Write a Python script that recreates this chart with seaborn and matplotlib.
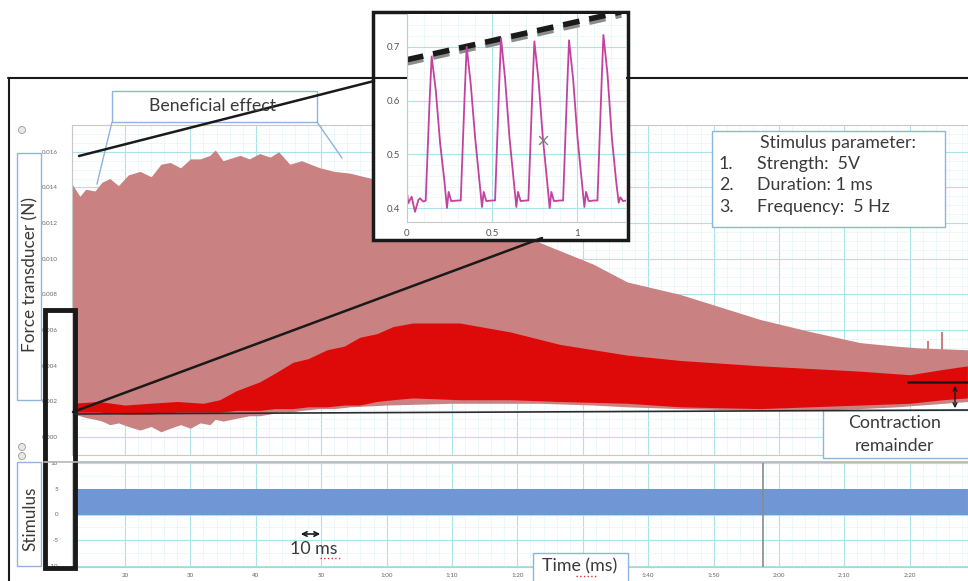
import matplotlib
matplotlib.use("Agg")
import matplotlib.pyplot as plt
import seaborn as sns
import pandas as pd
from matplotlib.patches import Rectangle, FancyArrowPatch, Circle

# ---- data read from the recording (time in s, force in N) ----
light_t = [11.9, 13.1, 14.0, 15.4, 16.5, 17.7, 19.0, 20.5, 22.3, 24.0, 25.5, 26.9, 28.5, 30.0,
           31.5, 33.0, 33.8, 35.0, 37.6, 39.0, 40.6, 42.2, 43.5, 45.2, 47.0, 49.8, 52.0, 54.4,
           60.0, 70.0, 83.5, 91.6, 96.8, 104.9, 117.1, 125.0, 132.4, 138.0, 141.6, 148.9]
light_top = [0.0142, 0.0135, 0.0139, 0.0138, 0.0143, 0.0145, 0.0141, 0.0147, 0.0149, 0.0146,
             0.0153, 0.0154, 0.0151, 0.0156, 0.0156, 0.0158, 0.0161, 0.0155, 0.0158, 0.0156,
             0.0159, 0.0157, 0.0160, 0.0153, 0.0155, 0.0151, 0.0149, 0.0148, 0.0143, 0.0132,
             0.0109, 0.0097, 0.0087, 0.0080, 0.0066, 0.0059, 0.0053, 0.0051, 0.0050, 0.0049]
light_bot = [0.0013, 0.0012, 0.0011, 0.0010, 0.0009, 0.0007, 0.0008, 0.0006, 0.0004, 0.0006,
             0.0003, 0.0005, 0.0007, 0.0005, 0.0008, 0.0007, 0.0010, 0.0009, 0.0011, 0.0012,
             0.0012, 0.0013, 0.0014, 0.0014, 0.0015, 0.0016, 0.0016, 0.0017, 0.0018, 0.0019,
             0.0019, 0.0018, 0.0017, 0.0016, 0.0015, 0.0015, 0.0016, 0.0017, 0.0018, 0.0020]

dark_t = [11.9, 16.0, 20.0, 23.8, 28.0, 32.0, 34.5, 37.0, 40.6, 43.0, 45.7, 48.0, 50.9, 53.5,
          55.9, 58.5, 61.0, 64.0, 71.2, 78.9, 86.5, 96.8, 104.9, 117.1, 132.4, 140.0, 145.1, 148.9]
dark_top = [0.0019, 0.0020, 0.0018, 0.0019, 0.0020, 0.0019, 0.0021, 0.0026, 0.0031, 0.0036,
            0.0042, 0.0044, 0.0049, 0.0051, 0.0056, 0.0058, 0.0062, 0.0064, 0.0064, 0.0059,
            0.0052, 0.0046, 0.0043, 0.0040, 0.0037, 0.0035, 0.0038, 0.0040]
dark_bot = [0.0014, 0.0014, 0.0013, 0.0013, 0.0014, 0.0014, 0.0014, 0.0015, 0.0015, 0.0016,
            0.0016, 0.0017, 0.0017, 0.0018, 0.0018, 0.0020, 0.0021, 0.0022, 0.0021, 0.0021,
            0.0020, 0.0019, 0.0017, 0.0016, 0.0018, 0.0019, 0.0021, 0.0022]

spike_t = [142.8, 144.9]
spike_lo = [0.0045, 0.0045]
spike_hi = [0.0054, 0.0059]

force_ticks = [0.000, 0.002, 0.004, 0.006, 0.008, 0.010, 0.012, 0.014, 0.016]
force_labels = ["0.000", "0.002", "0.004", "0.006", "0.008", "0.010", "0.012", "0.014", "0.016"]

# stimulus channel: 5 V pulse train shown as a band
stim_t = [11.9, 148.9]
stim_lo = [0, 0]
stim_hi = [5, 5]
stim_ticks = [-10, -5, 0, 5, 10]
stim_labels = ["-10", "-5", "0", "5", "10"]
marker_t = 117.6

time_ticks = [20, 30, 40, 50, 60, 70, 80, 90, 100, 110, 120, 130, 140]
time_labels = ["20", "30", "40", "50", "1:00", "1:10", "1:20", "1:30", "1:40", "1:50",
               "2:00", "2:10", "2:20"]

# zoomed trace in the inset (six twitches at 5 Hz)
zoom_t = [0.000, 0.008, 0.027, 0.047, 0.067, 0.076, 0.096,
          0.110, 0.133, 0.145, 0.169, 0.195, 0.220, 0.235, 0.245, 0.260, 0.300,
          0.316, 0.339, 0.351, 0.375, 0.401, 0.426, 0.441, 0.451, 0.466, 0.500,
          0.518, 0.541, 0.553, 0.577, 0.603, 0.628, 0.643, 0.653, 0.668, 0.700,
          0.714, 0.737, 0.749, 0.773, 0.799, 0.824, 0.839, 0.849, 0.864, 0.900,
          0.918, 0.941, 0.953, 0.977, 1.003, 1.028, 1.043, 1.053, 1.068, 1.100,
          1.120, 1.143, 1.155, 1.179, 1.205, 1.230, 1.245, 1.255, 1.270, 1.288]
zoom_v = [0.428, 0.409, 0.421, 0.393, 0.415, 0.418, 0.412,
          0.414, 0.600, 0.682, 0.620, 0.520, 0.450, 0.400, 0.430, 0.413, 0.414,
          0.414, 0.610, 0.700, 0.630, 0.530, 0.450, 0.402, 0.430, 0.413, 0.414,
          0.414, 0.620, 0.716, 0.640, 0.530, 0.450, 0.402, 0.430, 0.413, 0.414,
          0.414, 0.615, 0.710, 0.640, 0.530, 0.450, 0.400, 0.430, 0.413, 0.414,
          0.414, 0.615, 0.712, 0.640, 0.530, 0.450, 0.402, 0.430, 0.413, 0.414,
          0.414, 0.620, 0.722, 0.650, 0.530, 0.450, 0.410, 0.420, 0.413, 0.414]
peak_line_t = [0.0, 1.26]
peak_line_v = [0.676, 0.765]
cursor_t, cursor_v = 0.80, 0.527

LIGHT_RED = "#c98181"
DARK_RED = "#de0a0a"
STIM_BLUE = "#7196d6"
GRID = "#abe3ea"
GRID_MINOR = "#e4f6f8"
BOX_EDGE = "#8db3de"
TXT = "#3a3a3a"
FS = 12.8

W, H = 968, 581

sns.set_theme(style="white")
plt.rcParams["font.family"] = ["Lato", "DejaVu Sans"]


def px_rect(x0, y0, x1, y1):
    return [x0 / W, 1 - y1 / H, (x1 - x0) / W, (y1 - y0) / H]


def style_grid(a):
    a.set_axisbelow(True)
    a.minorticks_on()
    a.grid(which="major", color=GRID, lw=0.8)
    a.grid(which="minor", color=GRID_MINOR, lw=0.5)
    a.tick_params(which="both", labelsize=4.5, labelcolor="#666", length=2, color="#999")
    for s in a.spines.values():
        s.set_color("#c8c8c8")
        s.set_linewidth(0.8)


fig = plt.figure(figsize=(W / 100, H / 100), dpi=100)

# ---- force panel ----
ax = fig.add_axes(px_rect(72, 125, 968, 455))
ax.fill_between(light_t, light_bot, light_top, color=LIGHT_RED, lw=0)
ax.vlines(spike_t, spike_lo, spike_hi, color=LIGHT_RED, lw=1.5)
ax.fill_between(dark_t, dark_bot, dark_top, color=DARK_RED, lw=0)
ax.set_xlim(11.9, 148.9)
ax.set_ylim(-0.001, 0.0171)
style_grid(ax)
ax.set_yticks(force_ticks)
ax.set_yticklabels(force_labels)
ax.set_xticks(time_ticks)
ax.set_xticks([t + d for t in time_ticks for d in (2, 4, 6, 8)], minor=True)
ax.set_yticks([v + 0.0005 * k for v in force_ticks for k in (1, 2, 3)], minor=True)
ax.tick_params(axis="x", labelbottom=False, length=0)
ax.tick_params(axis="y", which="major", pad=8)

# ---- stimulus panel ----
sx = fig.add_axes(px_rect(72, 462, 968, 567))
sx.fill_between(stim_t, stim_lo, stim_hi, color=STIM_BLUE, lw=0)
sx.axvline(marker_t, color="#8a8a8a", lw=1.2)
sx.set_xlim(11.9, 148.9)
sx.set_ylim(-10.2, 10.2)
style_grid(sx)
sx.set_yticks(stim_ticks)
sx.set_yticklabels(stim_labels)
sx.set_xticks(time_ticks)
sx.set_xticklabels(time_labels)
sx.set_xticks([t + d for t in time_ticks for d in (2, 4, 6, 8)], minor=True)
sx.set_yticks([-7.5, -2.5, 2.5, 7.5], minor=True)
sx.tick_params(axis="y", which="major", pad=8)
sx.tick_params(axis="x", which="major", pad=2)

# ---- annotation overlay, drawn in pixel space ----
ov = fig.add_axes([0, 0, 1, 1], zorder=5)
ov.set_xlim(0, W)
ov.set_ylim(H, 0)
ov.axis("off")
ov.patch.set_alpha(0)

ov.plot([8, W], [78, 78], color="k", lw=1.5)
ov.plot([9, 9], [78, H], color="k", lw=1.5)
ov.plot([44, W], [462, 462], color="#b8b8b8", lw=1.2)

for cx, cy in [(22, 130), (22, 447), (22, 456)]:
    ov.add_patch(Circle((cx, cy), 3.5, fc="#e8e8e8", ec="#999", lw=0.6))

ov.add_patch(Rectangle((17, 153), 24, 247, fc="white", ec=BOX_EDGE, lw=1))
ov.text(30, 275, "Force transducer (N)", rotation=90, ha="center", va="center",
        fontsize=12.3, color=TXT)
ov.add_patch(Rectangle((17, 462), 24, 104, fc="white", ec=BOX_EDGE, lw=1))
ov.text(30, 519, "Stimulus", rotation=90, ha="center", va="center", fontsize=12.3, color=TXT)

# beneficial effect callout
ov.add_patch(Rectangle((112, 91), 205, 31, fc="white", ec=BOX_EDGE, lw=1))
ov.text(213, 106, "Beneficial effect", ha="center", va="center", fontsize=FS, color=TXT)
ov.plot([112, 97], [122, 184], color=BOX_EDGE, lw=1)
ov.plot([317, 342], [122, 158], color=BOX_EDGE, lw=1)

# zoom guides
ov.plot([79, 374], [156, 81], color="k", lw=1.8)
ov.plot([73, 542], [412, 238], color="k", lw=1.8)
ov.add_patch(Rectangle((45, 310), 30, 258, fill=False, ec="k", lw=3.5))

# contraction remainder marks
ov.plot([75, W], [414, 410], color="#2a2a2a", lw=1.2)
ov.plot([908, W], [382, 382], color="k", lw=1.8)
ov.add_patch(FancyArrowPatch((955, 383), (955, 411), arrowstyle="<->", mutation_scale=7,
                             color="k", lw=1))
ov.add_patch(Rectangle((823, 410), 150, 48, fc="white", ec=BOX_EDGE, lw=1))
ov.text(895, 423, "Contraction", ha="center", va="center", fontsize=FS, color=TXT)
ov.text(895, 446, "remainder", ha="center", va="center", fontsize=FS, color=TXT)

# stimulus parameter box
ov.add_patch(Rectangle((712, 131), 233, 96, fc="white", ec=BOX_EDGE, lw=1))
ov.text(838, 143, "Stimulus parameter:", ha="center", va="center", fontsize=FS, color=TXT)
for k, (num, lab) in enumerate([("1.", "Strength:  5V"), ("2.", "Duration: 1 ms"),
                                ("3.", "Frequency:  5 Hz")]):
    ov.text(719, 164 + 21.5 * k, num, ha="left", va="center", fontsize=FS, color=TXT)
    ov.text(757, 164 + 21.5 * k, lab, ha="left", va="center", fontsize=FS, color=TXT)

# 10 ms scale
ov.add_patch(FancyArrowPatch((298, 534), (323, 534), arrowstyle="<->", mutation_scale=8,
                             color="k", lw=1.2))
ov.text(314, 549, "10 ms", ha="center", va="center", fontsize=FS, color=TXT)
ov.plot([320, 340], [558, 558], color="#e03030", lw=1, ls=":")

# time axis label
ov.add_patch(Rectangle((533, 553), 95, 30, fc="white", ec=BOX_EDGE, lw=1))
ov.text(580, 566, "Time (ms)", ha="center", va="center", fontsize=FS, color=TXT)
ov.plot([576, 598], [576, 576], color="#e03030", lw=1, ls=":")

# inset frame
ov.add_patch(Rectangle((373, 12), 255, 228, fc="white", ec="k", lw=2.5))

# ---- inset zoom ----
ins = fig.add_axes(px_rect(407, 14, 626, 222), zorder=6)
ins.plot(peak_line_t, [v - 0.006 for v in peak_line_v], color="#8c8c8c", lw=4,
         dashes=(3, 1.8))
ins.plot(peak_line_t, peak_line_v, color="k", lw=4, dashes=(3, 1.8))
sns.lineplot(x=zoom_t, y=zoom_v, ax=ins, color="#c4429f", lw=1.3, sort=False)
ins.scatter([cursor_t], [cursor_v], marker="x", s=40, color="#808080", lw=1, zorder=4)
ins.set_xlim(0, 1.288)
ins.set_ylim(0.374, 0.761)
style_grid(ins)
ins.set_xticks([0, 0.5, 1])
ins.set_xticklabels(["0", "0.5", "1"])
ins.set_yticks([0.4, 0.5, 0.6, 0.7])
ins.set_yticklabels(["0.4", "0.5", "0.6", "0.7"])
ins.set_xticks([0.1, 0.2, 0.3, 0.4, 0.6, 0.7, 0.8, 0.9, 1.1, 1.2], minor=True)
ins.set_yticks([0.42, 0.44, 0.46, 0.48, 0.52, 0.54, 0.56, 0.58, 0.62, 0.64, 0.66, 0.68,
                0.72, 0.74], minor=True)
ins.tick_params(labelsize=7, labelcolor="#555", pad=3)
ins.spines["top"].set_visible(False)
ins.spines["right"].set_visible(False)

fig.savefig("out.png", dpi=100)
